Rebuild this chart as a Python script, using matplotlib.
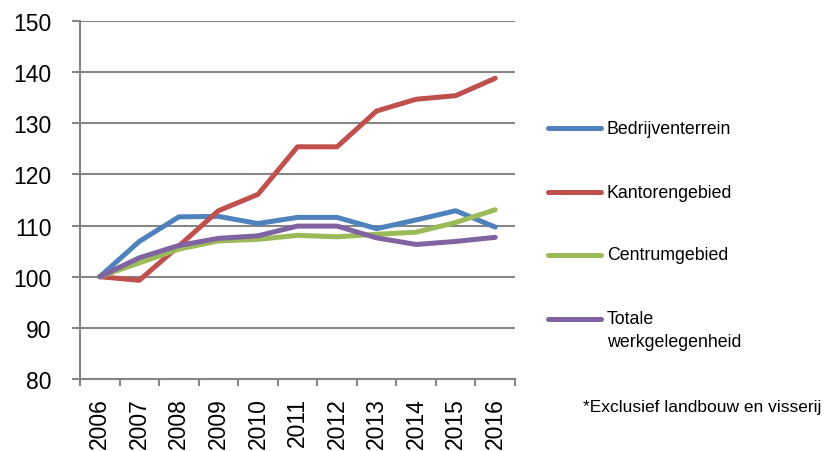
import matplotlib
matplotlib.use("Agg")
import matplotlib.pyplot as plt
from matplotlib.lines import Line2D

years = ["2006", "2007", "2008", "2009", "2010", "2011", "2012", "2013", "2014", "2015", "2016"]
bedrijventerrein = [100, 106.9, 111.7, 111.8, 110.4, 111.6, 111.6, 109.4, 111.1, 112.9, 109.7]
kantorengebied = [100, 99.3, 106.0, 112.9, 116.1, 125.4, 125.4, 132.4, 134.7, 135.4, 138.8]
centrumgebied = [100, 102.7, 105.4, 107.0, 107.3, 108.1, 107.8, 108.3, 108.7, 110.6, 113.1]
totale = [100, 103.7, 106.1, 107.5, 108.0, 109.9, 109.9, 107.6, 106.3, 106.9, 107.7]

series = [
    ("Bedrijventerrein", bedrijventerrein, "#4F81BD"),
    ("Kantorengebied", kantorengebied, "#C0504D"),
    ("Centrumgebied", centrumgebied, "#9BBB59"),
    ("Totale\nwerkgelegenheid", totale, "#8064A2"),
]

plt.rcParams["font.family"] = ["Liberation Sans", "DejaVu Sans"]
grid_col = "#868686"
W, H = 826, 452

fig = plt.figure(figsize=(W / 100, H / 100), dpi=100)
ax = fig.add_axes([80 / W, 1 - 380 / H, 435 / W, 358 / H])

x = list(range(len(years)))
for name, vals, col in series:
    ax.plot(x, vals, color=col, lw=3.6, solid_capstyle="round", solid_joinstyle="round", zorder=3)

ax.set_xlim(-0.5, len(years) - 0.5)
ax.set_ylim(80, 150)
ax.set_yticks(range(80, 151, 10))
ax.yaxis.grid(True, color=grid_col, lw=1.5)
ax.set_axisbelow(True)

ax.set_xticks(x)
ax.set_xticklabels(years, rotation=90, fontsize=16.5)
ax.tick_params(axis="x", which="major", length=0, pad=13)
ax.set_xticks([i - 0.5 for i in range(len(years) + 1)], minor=True)
ax.tick_params(axis="x", which="minor", length=5, width=1.5, color=grid_col)
ax.tick_params(axis="y", length=5.8, width=1.5, color=grid_col, labelsize=16.5, pad=14.5)

for side in ["top", "right"]:
    ax.spines[side].set_visible(False)
for side in ["left", "bottom"]:
    ax.spines[side].set_color(grid_col)
    ax.spines[side].set_linewidth(1.5)

# legend drawn beside the plot
legend_y = [129, 193, 256, 320]
for (name, vals, col), yy in zip(series, legend_y):
    fy = 1 - yy / H
    fig.add_artist(Line2D([548 / W, 601 / W], [fy, fy], color=col, lw=3.6,
                          solid_capstyle="round", transform=fig.transFigure))
    lines = name.split("\n")
    for k, line in enumerate(lines):
        fig.text(607 / W, 1 - (yy + 23 * k) / H, line, fontsize=12.8,
                 ha="left", va="center")

fig.text(583 / W, 1 - 408 / H, "*Exclusief landbouw en visserij", fontsize=12.5,
         ha="left", va="center")

fig.savefig("out.png", dpi=100)
